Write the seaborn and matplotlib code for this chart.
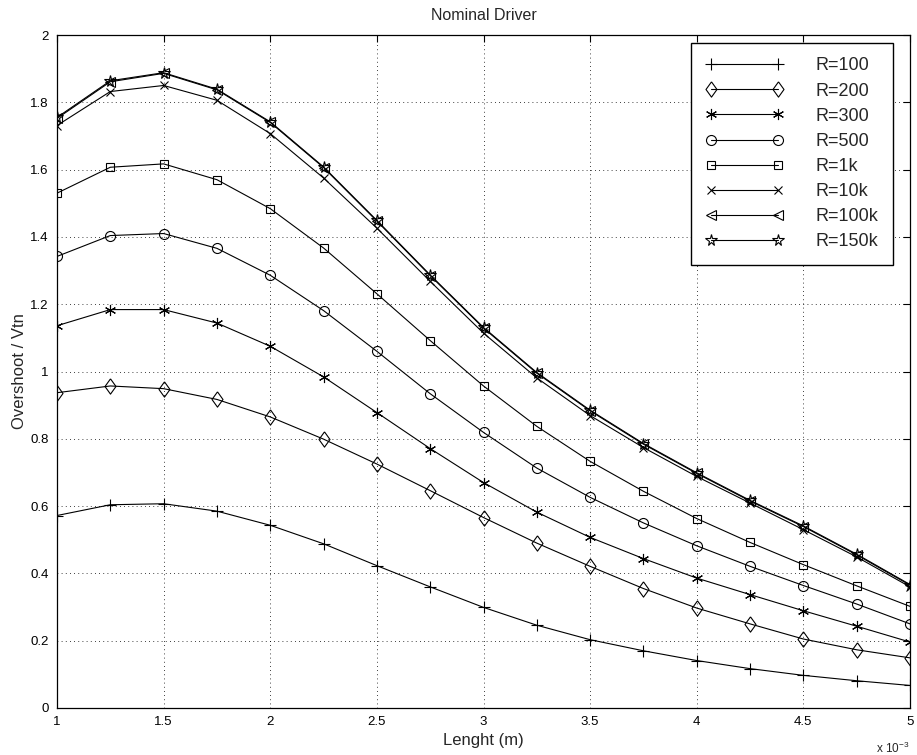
import numpy as np
import pandas as pd
import matplotlib
matplotlib.use("Agg")
import matplotlib.pyplot as plt
import seaborn as sns
from matplotlib.ticker import FuncFormatter

length = [1.0e-3, 1.25e-3, 1.5e-3, 1.75e-3, 2.0e-3, 2.25e-3, 2.5e-3, 2.75e-3, 3.0e-3,
          3.25e-3, 3.5e-3, 3.75e-3, 4.0e-3, 4.25e-3, 4.5e-3, 4.75e-3, 5.0e-3]

r100 = [0.572, 0.604, 0.607, 0.585, 0.543, 0.488, 0.423, 0.360, 0.299, 0.246, 0.203,
        0.170, 0.141, 0.117, 0.097, 0.081, 0.067]
r200 = [0.937, 0.957, 0.949, 0.917, 0.865, 0.799, 0.725, 0.646, 0.566, 0.490, 0.421,
        0.355, 0.297, 0.250, 0.205, 0.173, 0.149]
r300 = [1.136, 1.184, 1.184, 1.144, 1.075, 0.984, 0.878, 0.771, 0.670, 0.582, 0.507,
        0.444, 0.386, 0.337, 0.289, 0.243, 0.196]
r500 = [1.342, 1.404, 1.410, 1.366, 1.286, 1.181, 1.060, 0.934, 0.819, 0.713, 0.626,
        0.550, 0.482, 0.421, 0.364, 0.309, 0.250]
r1k = [1.530, 1.607, 1.617, 1.570, 1.484, 1.367, 1.231, 1.092, 0.957, 0.837, 0.733,
       0.644, 0.563, 0.492, 0.426, 0.363, 0.302]
r10k = [1.731, 1.832, 1.850, 1.806, 1.707, 1.575, 1.426, 1.268, 1.114, 0.981, 0.869,
        0.774, 0.688, 0.609, 0.530, 0.449, 0.360]
r100k = [1.752, 1.861, 1.886, 1.837, 1.740, 1.606, 1.447, 1.285, 1.129, 0.995, 0.883,
         0.784, 0.697, 0.615, 0.539, 0.455, 0.365]
r150k = [1.755, 1.864, 1.888, 1.839, 1.742, 1.608, 1.449, 1.287, 1.131, 0.997, 0.885,
         0.786, 0.699, 0.617, 0.541, 0.457, 0.367]

labels = ["R=100", "R=200", "R=300", "R=500", "R=1k", "R=10k", "R=100k", "R=150k"]
series = [r100, r200, r300, r500, r1k, r10k, r100k, r150k]
xticks = [1.0e-3, 1.5e-3, 2.0e-3, 2.5e-3, 3.0e-3, 3.5e-3, 4.0e-3, 4.5e-3, 5.0e-3]
yticks = [0, 0.2, 0.4, 0.6, 0.8, 1.0, 1.2, 1.4, 1.6, 1.8, 2.0]

sns.set_theme(style="white")
plt.rcParams['font.family'] = ['Liberation Sans', 'DejaVu Sans']
plt.rcParams['mathtext.fontset'] = 'custom'
plt.rcParams['mathtext.rm'] = 'Liberation Sans'

diamond = [(0, 1), (0.72, 0), (0, -1), (-0.72, 0), (0, 1)]
markers = ['+', diamond, (6, 2, 0), 'o', 's', 'x', '<', '*']
msizes = [8, 11, 8, 7.2, 5.5, 6, 7, 8.5]

fig = plt.figure(figsize=(9.17, 7.55), dpi=100)
ax = fig.add_axes([57/917, 1 - 708/755, (910-57)/917, (708-35)/755])

for lab, ys, mk, ms in zip(labels, series, markers, msizes):
    df = pd.DataFrame({"x": length, "y": ys})
    sns.lineplot(data=df, x="x", y="y", ax=ax, color="black", linewidth=0.8,
                 marker=mk, markersize=ms, markerfacecolor="none",
                 markeredgecolor="black", markeredgewidth=0.8, label=lab)

ax.set_xlim(1e-3, 5e-3)
ax.set_ylim(0, 2)
ax.set_xticks(xticks)
ax.set_yticks(yticks)
ax.xaxis.set_major_formatter(FuncFormatter(lambda v, p: f"{v*1e3:g}"))
ax.yaxis.set_major_formatter(FuncFormatter(lambda v, p: f"{v:g}"))
ax.tick_params(direction="in", length=5, width=0.8, top=True, right=True,
               labelsize=9.5, colors="black", pad=6)
ax.grid(True, linestyle=(0, (1, 4)), color="black", linewidth=0.6)
for s in ax.spines.values():
    s.set_color("black")
    s.set_linewidth(0.9)

ax.set_xlabel("Lenght (m)", fontsize=12, labelpad=3)
ax.set_ylabel("Overshoot / Vtn", fontsize=12, labelpad=2)
ax.set_title("Nominal Driver", fontsize=11.5, pad=11)
fig.text(876/917, 1 - 748/755, r"x 10$^{-3}$", fontsize=8.5, ha="left", va="center")

leg = ax.legend(loc="upper right", bbox_to_anchor=((893-57)/853, (708-43)/673),
                frameon=True, fancybox=False, edgecolor="black", fontsize=13,
                handlelength=4.3, handletextpad=1.8, labelspacing=0.45,
                borderpad=0.8, markerfirst=True, numpoints=2, borderaxespad=0.0)
leg.get_frame().set_linewidth(1.0)
leg.get_frame().set_alpha(1)

fig.savefig("out.png", dpi=100)
